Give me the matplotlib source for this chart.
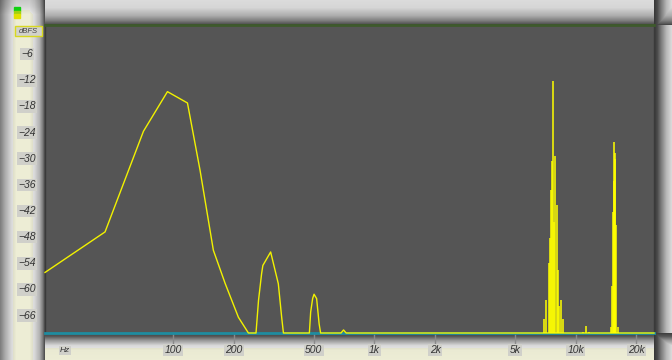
import numpy as np
import matplotlib.pyplot as plt
from matplotlib.patches import Rectangle
import matplotlib.transforms as mtransforms

# spectrum curve (Hz, dBFS)
curve_freq = [23.1, 45.9, 71.2, 93.7, 117.8, 136, 158.4, 181.2, 211, 236.5,
              258, 265.5, 275, 279, 305, 333, 346, 353,
              475, 482, 493, 501, 516, 531, 540,
              682, 702, 723, 24450]
curve_db = [-56.1, -46.8, -23.7, -14.6, -17.2, -32.6, -51.0, -58.6, -66.4, -70,
            -70, -62.5, -56.4, -54.5, -51.4, -58.7, -66.4, -70,
            -70, -65.2, -62.1, -61.1, -62.1, -67.9, -70,
            -70, -69.3, -70, -70]

# narrow high-frequency components (Hz, dBFS)
bar_freq = [6912, 7112, 7320, 7403, 7489, 7575, 7706, 7795, 7911, 8021, 8114,
            8253, 8395, 8590,
            10860, 11175, 11630,
            14870, 15125, 15300, 15450, 15530, 15620, 15710, 15890, 16110]
bar_db = [-66.9, -62.5, -54.0, -48.3, -37.2, -30.6, -12.2, -44.6, -29.4, -40.7, -55.6,
          -63.9, -62.5, -66.7,
          -69.7, -68.4, -69.7,
          -68.7, -59.1, -42.3, -35, -26.2, -30, -28.7, -45.3, -68.7]

y_ticks = [-6, -12, -18, -24, -30, -36, -42, -48, -54, -60, -66]
x_ticks = [100, 200, 500, 1000, 2000, 5000, 10000, 20000]
x_labels = ['100', '200', '500', '1k', '2k', '5k', '10k', '20k']

FLOOR = -70
W, H = 672, 360

# ---- bevelled frame background (pixel grid) ----
xs = np.arange(W)
ys = np.arange(H)
img = np.ones((H, W)) * 0.82
left = np.interp(xs[:45], [0, 5, 11, 16, 29, 34, 39, 42, 44], [0.5, 0.68, 0.85, 0.93, 0.93, 0.85, 0.7, 0.5, 0.32])
top = np.interp(ys[:25], [0, 7, 15, 20, 23, 24], [0.86, 0.84, 0.68, 0.5, 0.35, 0.28])
right = np.interp(xs[654:], [654, 657, 661, 666, 671], [0.22, 0.3, 0.5, 0.72, 0.85])
bottom = np.interp(ys[333:], [333, 336, 340, 345, 350, 359], [0.25, 0.35, 0.6, 0.85, 0.92, 0.93])
img[:25, :] = top[:, None]
img[333:, :] = bottom[:, None]
img[:, 654:] = right[None, :]
img[:25, 654:] = np.minimum(top[:, None], right[None, :])
img[333:, 654:] = np.minimum(bottom[:, None], right[None, :])
img[:, :45] = left[None, :] * np.interp(ys, [0, 6, 14], [0.85, 0.9, 1.0])[:, None]
rgb = np.stack([img, img, img * np.where(img > 0.88, 0.9, 1.0)], axis=-1)

fig = plt.figure(figsize=(6.72, 3.6), dpi=100)
bg = fig.add_axes([0, 0, 1, 1])
bg.imshow(rgb, extent=(0, W, H, 0), aspect='auto', interpolation='bilinear')
bg.set_xlim(0, W)
bg.set_ylim(H, 0)
bg.axis('off')

# little level LED
bg.add_patch(Rectangle((14, 7), 6, 4, color='#10d010'))
bg.add_patch(Rectangle((14, 11), 6, 3, color='#a0d010'))
bg.add_patch(Rectangle((14, 14), 6, 4, color='#e0e000'))

# dBFS box
bg.add_patch(Rectangle((15, 26), 27, 10, facecolor='#d2d2cc', edgecolor='#d8d820', lw=1))
bg.text(28.5, 31.5, 'dBFS', ha='center', va='center', fontsize=5.5, style='italic',
        color='#444444', family='Liberation Sans')

# ---- spectrum axes ----
ax = fig.add_axes([45 / W, 27 / H, 609 / W, 308 / H])
ax.set_facecolor('#555555')
ax.set_xscale('log')
ax.set_xlim(23.1, 24450)
ax.set_ylim(FLOOR, 0.7)
ax.set_xticks([])
ax.set_yticks([])
ax.minorticks_off()
for s in ['left', 'right']:
    ax.spines[s].set_color('#3a3a3a')
    ax.spines[s].set_linewidth(1.0)
ax.spines['top'].set_color('#3e5a2c')
ax.spines['top'].set_linewidth(2)
ax.spines['bottom'].set_color('#1f8ca0')
ax.spines['bottom'].set_linewidth(2)

ax.plot(curve_freq, curve_db, color='#f2f200', lw=1.0, clip_on=False, zorder=4)
ax.vlines(bar_freq, FLOOR, bar_db, color='#ffff00', lw=1.1, zorder=4, clip_on=False)

lbl_box = dict(boxstyle='square,pad=0.12', fc='#d0d0ca', ec='none')
ytr = mtransforms.blended_transform_factory(ax.transAxes, ax.transData)
for v in y_ticks:
    ax.text(-18 / 609, v, '\u2212' + str(-v), transform=ytr, ha='center', va='center',
            fontsize=7.5, style='italic', color='#333333', family='Liberation Sans',
            bbox=lbl_box, clip_on=False)

xtr = mtransforms.blended_transform_factory(ax.transData, ax.transAxes)
for f, lab in zip(x_ticks, x_labels):
    ax.plot([f, f], [0, -11 / 308], transform=xtr, color='#8a8a8a', lw=1, clip_on=False)
    ax.text(f, -17 / 308, lab, transform=xtr, ha='center', va='center',
            fontsize=7.5, style='italic', color='#333333', family='Liberation Sans',
            bbox=lbl_box, clip_on=False)
ax.text(20 / 609, -17 / 308, 'Hz', transform=ax.transAxes, ha='center', va='center',
        fontsize=6, style='italic', color='#333333', family='Liberation Sans',
        bbox=lbl_box, clip_on=False)

fig.savefig('out.png', dpi=100)
